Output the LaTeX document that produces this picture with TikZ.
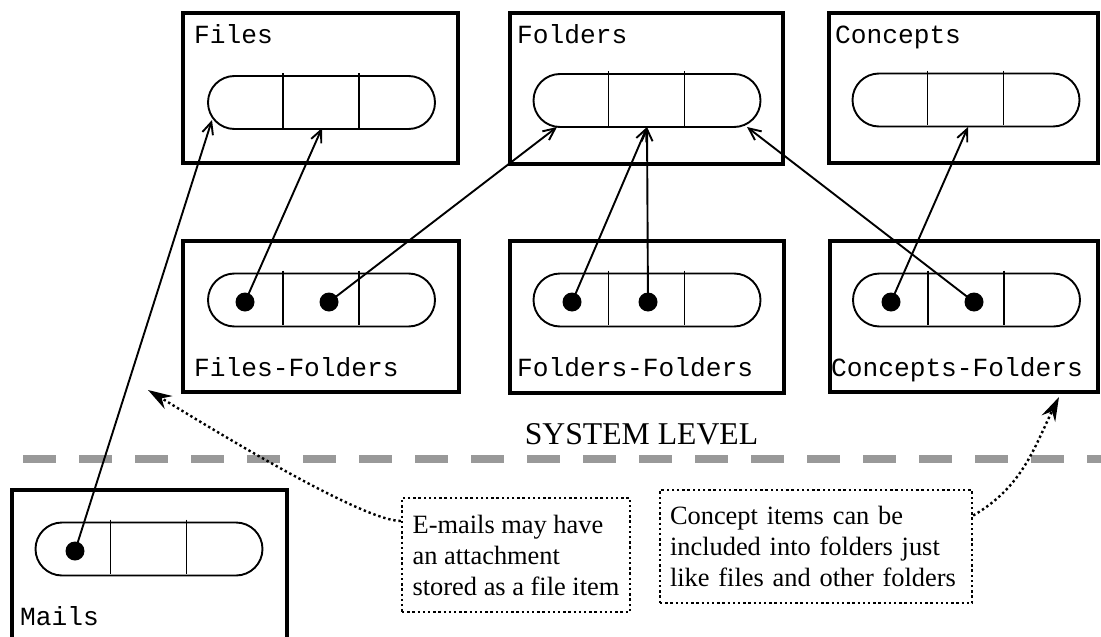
\documentclass[tikz,border=0pt]{standalone}
\usepackage{fontspec}
\setmainfont{Liberation Serif}
\setmonofont{Liberation Mono}
\usetikzlibrary{arrows.meta}
\definecolor{sepgray}{RGB}{153,153,153}
\begin{document}
\begin{tikzpicture}[x=1pt,y=-1pt,
  tbl/.style={draw, line width=3.3pt, rectangle, inner sep=0pt},
  caps/.style={draw, line width=1.9pt, rectangle, rounded corners=26.5pt, minimum width=227pt, minimum height=53pt, inner sep=0pt},
  divider/.style={line width=1.9pt},
  dot/.style={circle, fill=black, minimum size=19pt, inner sep=0pt},
  lbl/.style={font=\ttfamily\fontsize{26.2}{30}\selectfont, anchor=base west, inner sep=0pt},
  link/.style={line width=1.9pt, -{Straight Barb[length=12pt,width=11pt]}},
  note/.style={draw, line width=2.4pt, dash pattern=on 2.4pt off 2.8pt, font=\fontsize{26.4}{31}\selectfont, align=left},
  hint/.style={line width=2.4pt, dash pattern=on 2.4pt off 2.8pt, -{Stealth[length=24pt,width=15pt,inset=8pt]}}
]
\useasboundingbox (0,0) rectangle (1101,637);
\clip (0,0) rectangle (1101,637);

% separator
\coordinate (sepL) at (23,459);
\coordinate (sepR) at (1130,459);
\draw[sepgray, line width=8pt, dash pattern=on 33pt off 23pt] (sepL) -- (sepR);
\node[font=\fontsize{31.7}{36}\selectfont, anchor=base, inner sep=0pt] (sys) at (641.5,444) {SYSTEM LEVEL};

% tables
\node[tbl, minimum width=275pt, minimum height=150pt] (files) at (320.5,88) {};
\node[tbl, minimum width=273pt, minimum height=151pt] (folders) at (646.5,88.5) {};
\node[tbl, minimum width=269pt, minimum height=150pt] (concepts) at (963.5,88) {};
\node[tbl, minimum width=276pt, minimum height=151pt] (ff) at (321,316.5) {};
\node[tbl, minimum width=274pt, minimum height=152pt] (fof) at (647,317) {};
\node[tbl, minimum width=268pt, minimum height=151pt] (cf) at (964,316.5) {};
\node[tbl, minimum width=275pt, minimum height=170pt] (mails) at (149.5,575) {};

% labels
\node[lbl] (lFiles) at (194,43) {Files};
\node[lbl] (lFolders) at (517,43) {Folders};
\node[lbl] (lConcepts) at (835,43) {Concepts};
\node[lbl] (lFF) at (194,376) {Files-Folders};
\node[lbl] (lFoF) at (517,376) {Folders-Folders};
\node[lbl] (lCF) at (831,376) {Concepts-Folders};
\node[lbl] (lM) at (20,625) {Mails};

% capsules
\node[caps] (capF) at (321.5,102.5) {};
\node[caps] (capFo) at (647,100.5) {};
\node[caps] (capC) at (966,100) {};
\node[caps] (capFF) at (321.5,300) {};
\node[caps] (capFoF) at (647,300) {};
\node[caps] (capCF) at (966.5,300) {};
\node[caps] (capM) at (149,549) {};
\foreach \c in {capF,capFo,capC,capFF,capFoF,capCF,capM}{
  \draw[divider] ([xshift=-38.5pt,yshift=29.5pt]\c.center) -- ([xshift=-38.5pt,yshift=-25pt]\c.center);
  \draw[divider] ([xshift=37.5pt,yshift=29.5pt]\c.center) -- ([xshift=37.5pt,yshift=-25pt]\c.center);
}

% dots
\node[dot] (ff1) at (245,302) {};
\node[dot] (ff2) at (329,302) {};
\node[dot] (fof1) at (572,302) {};
\node[dot] (fof2) at (648,302) {};
\node[dot] (cf1) at (891,302) {};
\node[dot] (cf2) at (974,302) {};
\node[dot] (m1) at (75,551) {};

% targets
\coordinate (tF1) at (212,120);
\coordinate (tF2) at (322,128);
\coordinate (tFo1) at (557,127);
\coordinate (tFo2) at (647,127);
\coordinate (tFo3) at (747,127);
\coordinate (tC) at (968,127);

\draw[link] (m1.center) -- (tF1);
\draw[link] (ff1.center) -- (tF2);
\draw[link] (ff2.center) -- (tFo1);
\draw[link] (fof1.center) -- (tFo2);
\draw[link] (fof2.center) -- (tFo2);
\draw[link] (cf2.center) -- (tFo3);
\draw[link] (cf1.center) -- (tC);

% notes
\node[note, minimum width=228pt, minimum height=114pt, inner sep=0pt] (ebox) at (516,555)
  {E-mails may have\\an attachment\\stored as a file item};
\node[note, minimum width=312pt, minimum height=113pt, text width=292pt, inner xsep=10pt, inner ysep=0pt] (cbox) at (816,546.5)
  {Concept items can be\\included into folders just\\like files and other folders};

\coordinate (eTip) at (148,390);
\coordinate (cTip) at (1059,397);
\draw[hint] ([yshift=34pt]ebox.west) .. controls +(-40,0) and +(51,31) .. (eTip);
\draw[hint] ([yshift=31pt]cbox.east) .. controls +(49,-28.5) and +(-25,51) .. (cTip);
\end{tikzpicture}
\end{document}
